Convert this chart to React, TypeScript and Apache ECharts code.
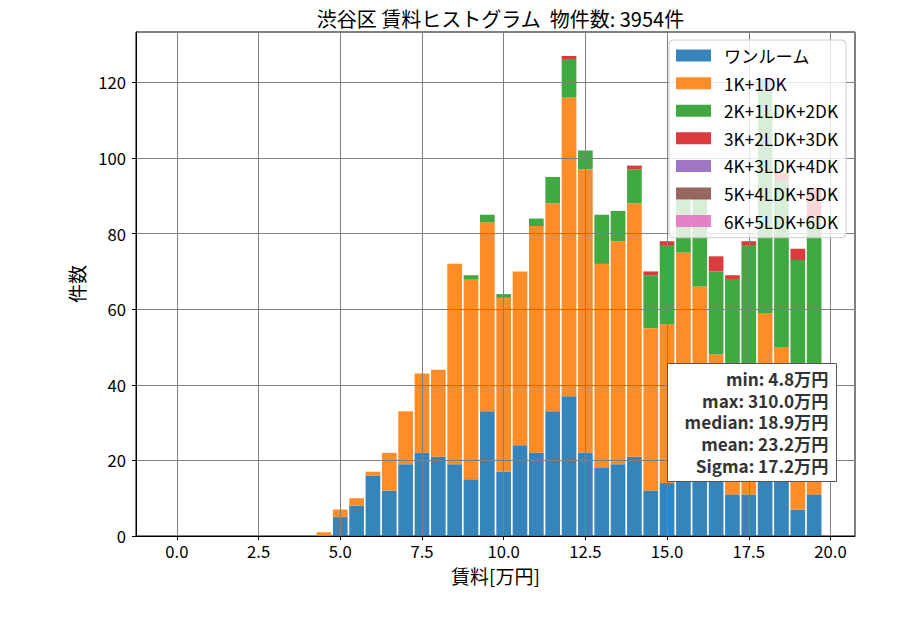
import React, { useEffect, useRef } from 'react';
import * as echarts from 'echarts';

// ビンの中心 [万円]
const binCenters = [
  4.5, 5.0, 5.5, 6.0, 6.5, 7.0, 7.5, 8.0, 8.5, 9.0, 9.5, 10.0, 10.5, 11.0, 11.5, 12.0,
  12.5, 13.0, 13.5, 14.0, 14.5, 15.0, 15.5, 16.0, 16.5, 17.0, 17.5, 18.0, 18.5, 19.0, 19.5,
];

const layoutNames = ['ワンルーム', '1K+1DK', '2K+1LDK+2DK', '3K+2LDK+3DK', '4K+3LDK+4DK', '5K+4LDK+5DK', '6K+5LDK+6DK'];
const layoutColors = ['#1f77b4', '#ff7f0e', '#2ca02c', '#d62728', '#9467bd', '#8c564b', '#e377c2'];

const oneRoom = [0, 5, 8, 16, 12, 19, 22, 21, 19, 15, 33, 17, 24, 22, 33, 37, 22, 18, 19, 21, 12, 14, 20, 22, 17, 11, 11, 19, 16, 7, 11];
const k1 = [1, 2, 2, 1, 10, 14, 21, 23, 53, 53, 50, 46, 46, 60, 55, 79, 75, 54, 59, 67, 43, 42, 55, 44, 31, 25, 29, 40, 34, 24, 23];
const k2 = [0, 0, 0, 0, 0, 0, 0, 0, 0, 1, 2, 1, 0, 2, 7, 10, 5, 13, 8, 9, 14, 21, 14, 24, 22, 32, 37, 59, 44, 42, 50];
const k3 = [0, 0, 0, 0, 0, 0, 0, 0, 0, 0, 0, 0, 0, 0, 0, 1, 0, 0, 0, 1, 1, 1, 0, 0, 4, 1, 1, 0, 2, 3, 8];
const k4 = [0, 0, 0, 0, 0, 0, 0, 0, 0, 0, 0, 0, 0, 0, 0, 0, 0, 0, 0, 0, 0, 0, 0, 0, 0, 0, 0, 3, 0, 0, 0];
const k5 = [0, 0, 0, 0, 0, 0, 0, 0, 0, 0, 0, 0, 0, 0, 0, 0, 0, 0, 0, 0, 0, 0, 0, 0, 0, 0, 0, 0, 0, 0, 0];
const k6 = [0, 0, 0, 0, 0, 0, 0, 0, 0, 0, 0, 0, 0, 0, 0, 0, 0, 0, 0, 0, 0, 0, 0, 0, 0, 0, 0, 0, 0, 0, 0];
const layoutCounts = [oneRoom, k1, k2, k3, k4, k5, k6];

const xTicks = [0, 2.5, 5, 7.5, 10, 12.5, 15, 17.5, 20];
const statLines = ['min: 4.8万円', 'max: 310.0万円', 'median: 18.9万円', 'mean: 23.2万円', 'Sigma: 17.2万円'];
const titleText = '渋谷区 賃料ヒストグラム  物件数: 3954件';

const X_MIN = -1.25;
const X_MAX = 20.75;
const Y_MAX = 133.35;
const BIN_WIDTH = 0.5;

const GRID = { left: 136, right: 45, top: 32, bottom: 94 };
const FONT = '"Noto Sans CJK JP", "Noto Sans", sans-serif';

const App: React.FC = () => {
  const chartRef = useRef<HTMLDivElement>(null);

  useEffect(() => {
    if (!chartRef.current) return;
    const chart = echarts.init(chartRef.current, undefined, { renderer: 'svg' });

    const plotW = 900 - GRID.left - GRID.right;

    // 棒用のカテゴリ軸 (0.5刻みのビン, 軸全体を覆う)
    const binCats: number[] = [];
    for (let c = X_MIN + BIN_WIDTH / 2; c < X_MAX; c += BIN_WIDTH) binCats.push(Math.round(c * 100) / 100);
    const countsOnAxis = (arr: number[]) =>
      binCats.map(c => {
        const j = binCenters.findIndex(b => Math.abs(b - c) < 1e-6);
        return j >= 0 ? arr[j] : 0;
      });

    // 目盛り用のカテゴリ軸 (0.25刻み)
    const tickCats: string[] = [];
    for (let i = 0; X_MIN + i * 0.25 <= X_MAX + 1e-9; i++) {
      tickCats.push((X_MIN + i * 0.25).toFixed(2));
    }
    const isTick = (_: number, v: string) => xTicks.some(t => Math.abs(t - Number(v)) < 1e-6);

    const boxW = 169;
    const boxH = 118;
    const lineH = 21.75;

    const option = {
      animation: false,
      textStyle: { fontFamily: FONT },
      title: {
        text: titleText,
        left: GRID.left + plotW / 2,
        textAlign: 'center',
        top: 3,
        textStyle: { fontSize: 20, fontWeight: 'normal', color: '#000', fontFamily: FONT },
      },
      grid: { ...GRID, show: true, borderColor: '#000', borderWidth: 1, backgroundColor: 'transparent' },
      legend: {
        data: layoutNames,
        orient: 'vertical',
        right: 54,
        top: 40,
        padding: [7, 8, 8, 7],
        itemGap: 10.4,
        itemWidth: 35,
        itemHeight: 12,
        icon: 'rect',
        backgroundColor: 'rgba(255,255,255,0.8)',
        borderColor: '#cccccc',
        borderWidth: 1,
        borderRadius: 4,
        z: 5,
        textStyle: { fontSize: 17.2, lineHeight: 16, color: '#000', padding: [0, 0, 0, 8], fontFamily: FONT },
      },
      xAxis: [
        {
          type: 'category',
          data: binCats.map(String),
          boundaryGap: true,
          position: 'top',
          show: false,
        },
        {
          type: 'category',
          data: tickCats,
          boundaryGap: false,
          position: 'bottom',
          z: 3,
          name: '賃料[万円]',
          nameLocation: 'middle',
          nameGap: 30,
          nameTextStyle: { fontSize: 19, color: '#000', fontFamily: FONT },
          axisLine: { show: true, onZero: false, lineStyle: { color: '#000', width: 1 } },
          axisTick: { show: true, length: 4, interval: isTick, lineStyle: { color: '#000' } },
          axisLabel: {
            interval: isTick,
            margin: 7,
            fontSize: 16.7,
            color: '#000',
            fontFamily: FONT,
            formatter: (v: string) => Number(v).toFixed(1),
          },
          splitLine: { show: true, interval: isTick, lineStyle: { color: '#808080', width: 1 } },
        },
      ],
      yAxis: {
        type: 'value',
        min: 0,
        max: Y_MAX,
        interval: 20,
        z: 3,
        name: '件数',
        nameLocation: 'middle',
        nameGap: 50,
        nameRotate: 90,
        nameTextStyle: { fontSize: 19, color: '#000', fontFamily: FONT },
        axisLine: { show: true, onZero: false, lineStyle: { color: '#000', width: 1 } },
        axisTick: { show: true, length: 4, lineStyle: { color: '#000' } },
        axisLabel: {
          showMaxLabel: false,
          margin: 10,
          fontSize: 16.7,
          color: '#000',
          fontFamily: FONT,
          formatter: (v: number) => (v % 20 === 0 ? String(v) : ''),
        },
        splitLine: { show: true, lineStyle: { color: '#808080', width: 1 } },
      },
      series: layoutNames.map((name, i) => ({
        name,
        type: 'bar',
        stack: 'rent',
        xAxisIndex: 0,
        yAxisIndex: 0,
        barWidth: '90%',
        itemStyle: { color: layoutColors[i], opacity: 0.9 },
        data: countsOnAxis(layoutCounts[i]),
      })),
      graphic: [
        {
          type: 'group',
          right: 63,
          top: 363,
          z: 100,
          children: [
            {
              type: 'rect',
              shape: { x: 0, y: 0, width: boxW, height: boxH },
              style: { fill: '#ffffff', stroke: '#555555', lineWidth: 1 },
              z: 100,
            },
            {
              type: 'text',
              x: boxW - 8,
              y: 4,
              z: 101,
              style: {
                text: statLines.join('\n'),
                fontSize: 17.2,
                lineHeight: lineH,
                fontWeight: 'bold',
                fontFamily: FONT,
                fill: '#333',
                align: 'right',
                verticalAlign: 'top',
              },
            },
          ],
        },
      ],
    };

    chart.setOption(option as any);

    return () => {
      chart.dispose();
    };
  }, []);

  return (
    <div
      ref={chartRef}
      style={{ position: 'fixed', left: 0, top: 0, width: '900px', height: '630px', background: '#fff' }}
    />
  );
};

export default App;
